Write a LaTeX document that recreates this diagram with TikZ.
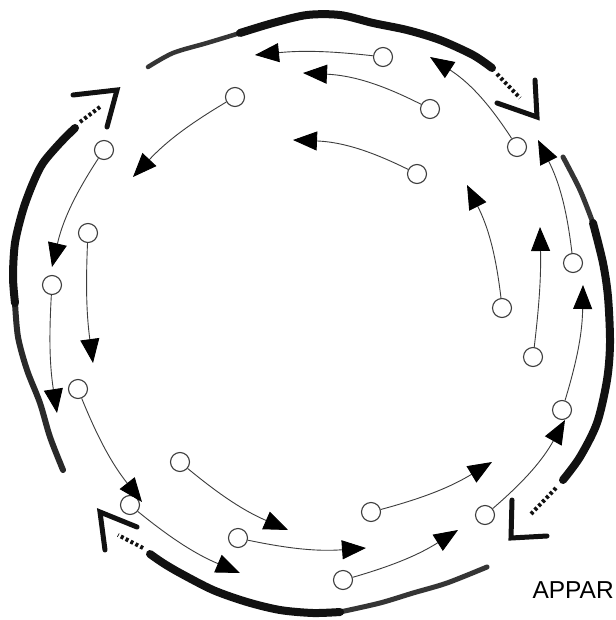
\documentclass[tikz,border=0pt]{standalone}
\usepackage{fontspec}
\setmainfont{Liberation Sans}
\usetikzlibrary{arrows.meta}
\definecolor{cink}{HTML}{111111}
\definecolor{cpencil}{HTML}{3C3C3C}
\tikzset{
  every picture/.style={line width=1pt},
  ring/.style={circle, draw=cpencil, fill=white, line width=1.1pt, minimum size=19pt, inner sep=0pt},
  drift/.style={-{Triangle[length=24pt, width=19pt, color=black]}, draw=cpencil, line width=0.9pt},
  brush/.style={draw=cink, line width=#1, line cap=round, line join=round},
  brush/.default=8pt,
  brushdash/.style={draw=cink, line width=4pt, dash pattern=on 3pt off 2.5pt},
  chevron/.style={draw=cink, line width=5pt, line cap=round, line join=miter},
  caption/.style={font=\fontsize{24.5}{28}\selectfont, inner sep=0pt},
}

\begin{document}
\begin{tikzpicture}[x=1pt, y=-1pt]
  \useasboundingbox[fill=white] (0,0) rectangle (615,620);
  % ---------- apparent motion: brush arrows, clockwise ----------
  % top
  \draw[brush=4.5pt, draw=cink!85] plot[smooth] coordinates {(148,67) (173,53) (207,43) (240,33)};
  \draw[brush] plot[smooth] coordinates {(240,33) (273,23) (307,15) (340,15) (373,23) (407,30) (440,40) (473,55) (492,68)};
  \draw[brushdash] (497,74) -- (520,98);
  \draw[chevron] (535,80) -- (537,117) -- (497,103);
  % right
  \draw[brush=5pt, draw=cink!85] plot[smooth] coordinates {(563,157) (580,190) (593,223)};
  \draw[brush] plot[smooth] coordinates {(593,223) (603,263) (608,297) (610,343) (607,380) (597,423) (580,457) (563,480)};
  \draw[brushdash] (556,488) -- (530,515);
  \draw[chevron] (512,500) -- (511,538) -- (547,536);
  % bottom
  \draw[brush=5pt, draw=cink!85] plot[smooth] coordinates {(487,567) (447,583) (413,593) (380,603) (340,612)};
  \draw[brush] plot[smooth] coordinates {(340,612) (313,613) (280,610) (247,602) (213,590) (180,573) (163,563) (150,554)};
  \draw[brushdash] (143,548) -- (118,535);
  \draw[chevron] (105,550) -- (100,512) -- (137,527);
  % left
  \draw[brush=6pt, draw=cink!90] plot[smooth] coordinates {(63,470) (50,437) (40,403) (27,370) (18,337) (15,303)};
  \draw[brush] plot[smooth] coordinates {(15,303) (13,277) (15,243) (23,210) (33,183) (43,163) (60,143) (75,128)};
  \draw[brushdash] (80,122) -- (100,107);
  \draw[chevron] (73,95) -- (117,90) -- (107,127);

  % ---------- single elements: circles and their arrows ----------
  % top
  \node[ring] (t1) at (383,57) {};  \coordinate (t1h) at (255,55);
  \node[ring] (t2) at (430,109) {}; \coordinate (t2h) at (303,73);
  \node[ring] (t3) at (417,174) {}; \coordinate (t3h) at (293,140);
  \node[ring] (t4) at (517,147) {}; \coordinate (t4h) at (430,57);
  \node[ring] (t5) at (235,97) {};  \coordinate (t5h) at (133,177);
  \draw[drift] (t1) to[bend right=6] (t1h);
  \draw[drift] (t2) to[bend right=12] (t2h);
  \draw[drift] (t3) to[bend right=12] (t3h);
  \draw[drift] (t4) to[bend right=12] (t4h);
  \draw[drift] (t5) to[bend right=8] (t5h);
  % left
  \node[ring] (l1) at (104,150) {}; \coordinate (l1h) at (52,267);
  \node[ring] (l2) at (88,233) {};  \coordinate (l2h) at (93,363);
  \node[ring] (l3) at (52,285) {};  \coordinate (l3h) at (57,413);
  \draw[drift] (l1) to[bend right=10] (l1h);
  \draw[drift] (l2) to[bend right=5] (l2h);
  \draw[drift] (l3) to[bend right=6] (l3h);
  % bottom
  \node[ring] (b1) at (78,389) {};  \coordinate (b1h) at (142,502);
  \node[ring] (b2) at (180,462) {}; \coordinate (b2h) at (288,530);
  \node[ring] (b3) at (130,505) {}; \coordinate (b3h) at (240,573);
  \node[ring] (b4) at (238,538) {}; \coordinate (b4h) at (366,548);
  \node[ring] (b5) at (343,580) {}; \coordinate (b5h) at (458,530);
  \node[ring] (b6) at (371,512) {}; \coordinate (b6h) at (492,462);
  \node[ring] (b7) at (485,515) {}; \coordinate (b7h) at (565,420);
  \draw[drift] (b1) to[bend right=8] (b1h);
  \draw[drift] (b2) to[bend right=8] (b2h);
  \draw[drift] (b3) to[bend right=8] (b3h);
  \draw[drift] (b4) to[bend right=8] (b4h);
  \draw[drift] (b5) to[bend right=8] (b5h);
  \draw[drift] (b6) to[bend right=8] (b6h);
  \draw[drift] (b7) to[bend right=10] (b7h);
  % right
  \node[ring] (r1) at (562,410) {}; \coordinate (r1h) at (583,285);
  \node[ring] (r2) at (533,357) {}; \coordinate (r2h) at (540,227);
  \node[ring] (r3) at (502,308) {}; \coordinate (r3h) at (467,185);
  \node[ring] (r4) at (573,263) {}; \coordinate (r4h) at (538,140);
  \draw[drift] (r1) to[bend right=8] (r1h);
  \draw[drift] (r2) to[bend right=4] (r2h);
  \draw[drift] (r3) to[bend right=10] (r3h);
  \draw[drift] (r4) to[bend right=10] (r4h);

  \node[caption, anchor=base west] (apparent) at (532,598) {APPAR};
\end{tikzpicture}
\end{document}
